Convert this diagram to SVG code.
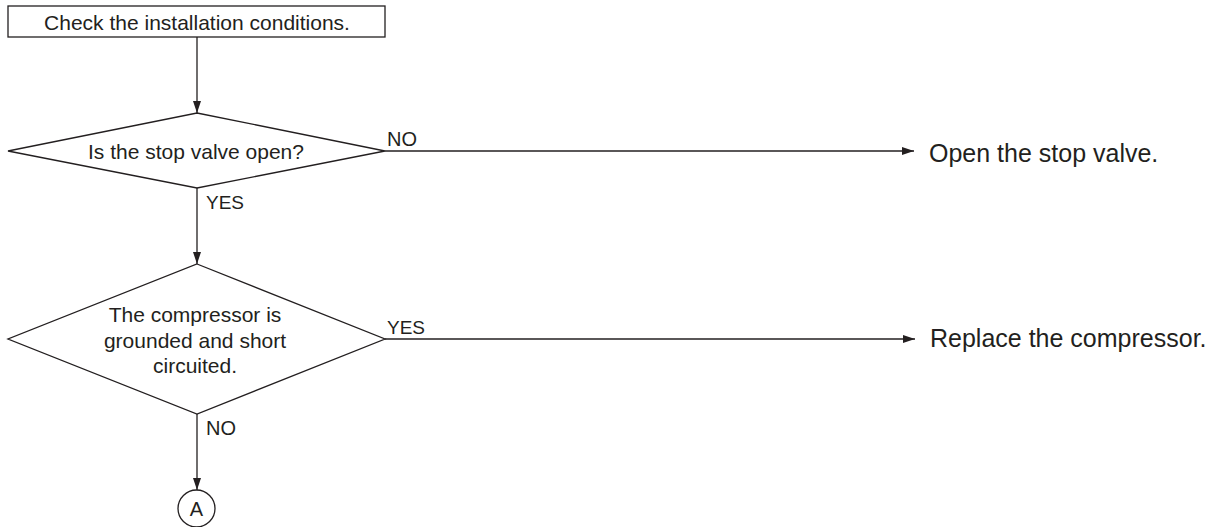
<svg xmlns="http://www.w3.org/2000/svg" width="1215" height="527" viewBox="0 0 1215 527">
<style>
.shape{fill:#fff;stroke:#231f20;stroke-width:1.3}
.line{fill:none;stroke:#231f20;stroke-width:1.3}
.t{font-family:"Liberation Sans",Arial,sans-serif;fill:#231f20}
.c{text-anchor:middle}
</style>
<defs>
<marker id="arr" viewBox="0 0 12 8" refX="12" refY="4" markerWidth="12" markerHeight="8" markerUnits="userSpaceOnUse" orient="auto">
<path d="M0,0 L12,4 L0,8 Z" fill="#231f20"/>
</marker>
</defs>
<rect width="1215" height="527" fill="#fff"/>
<g id="connectors">
<line class="line" x1="197" y1="37" x2="197" y2="113" marker-end="url(#arr)"/>
<line class="line" x1="385" y1="151" x2="914" y2="151" marker-end="url(#arr)"/>
<line class="line" x1="197" y1="188" x2="197" y2="264" marker-end="url(#arr)"/>
<line class="line" x1="385" y1="339" x2="915" y2="339" marker-end="url(#arr)"/>
<line class="line" x1="197" y1="414" x2="197" y2="490" marker-end="url(#arr)"/>
<text class="t" x="387" y="146" font-size="20">NO</text>
<text class="t" x="206" y="209" font-size="19">YES</text>
<text class="t" x="387" y="334" font-size="19">YES</text>
<text class="t" x="206" y="435" font-size="20">NO</text>
</g>
<g id="start">
<rect class="shape" x="8" y="6" width="377" height="31"/>
<text class="t c" x="197" y="30" font-size="21">Check the installation conditions.</text>
</g>
<g id="decision1">
<polygon class="shape" points="197,113 385,151 197,188 8,151"/>
<text class="t c" x="196" y="159" font-size="21">Is the stop valve open?</text>
</g>
<g id="open-valve">
<text class="t" x="929" y="162" font-size="25">Open the stop valve.</text>
</g>
<g id="decision2">
<polygon class="shape" points="197,264 385,339 197,414 8,339"/>
<text class="t c" x="195" y="322" font-size="21">The compressor is</text>
<text class="t c" x="195" y="347.5" font-size="21">grounded and short</text>
<text class="t c" x="195" y="373" font-size="21">circuited.</text>
</g>
<g id="replace">
<text class="t" x="930" y="347" font-size="25">Replace the compressor.</text>
</g>
<g id="connector-a">
<circle class="shape" cx="196.5" cy="508.5" r="18.5"/>
<text class="t c" x="196.5" y="516" font-size="20">A</text>
</g>
</svg>
